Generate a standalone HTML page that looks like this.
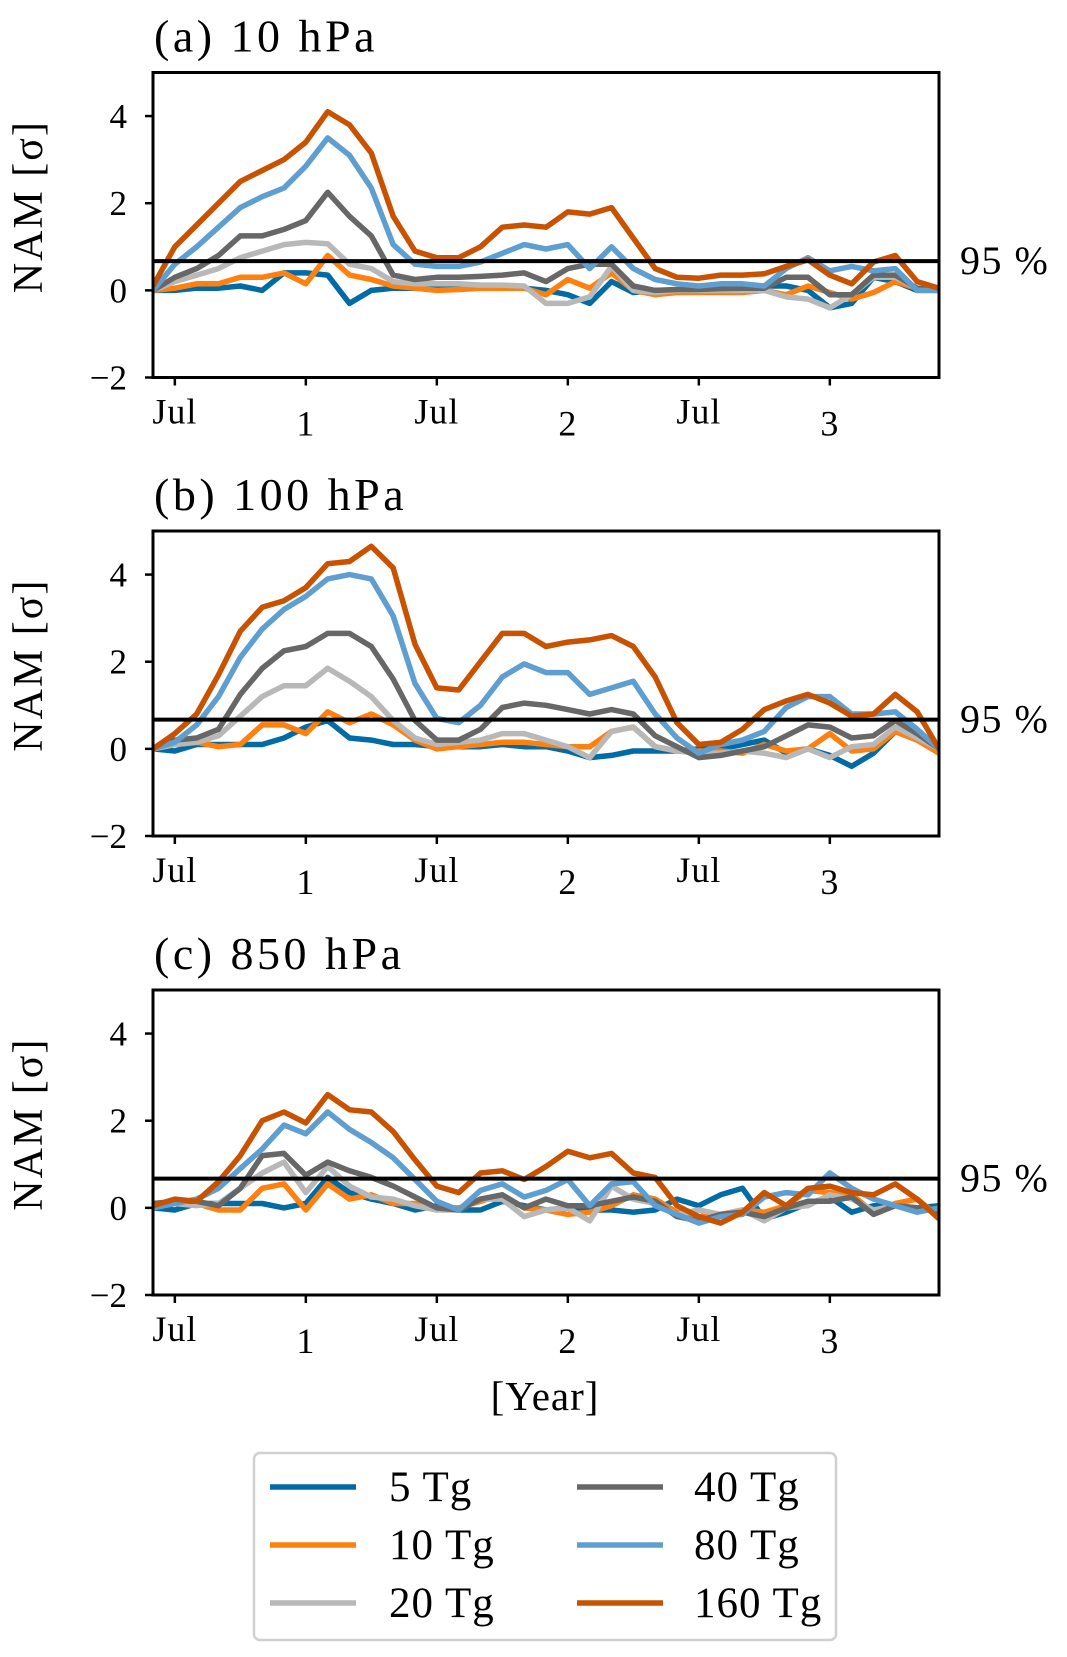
<!DOCTYPE html>
<html><head><meta charset="utf-8"><style>
html,body{margin:0;padding:0;background:#fff;}
svg{display:block;font-family:"Liberation Serif","DejaVu Serif",serif;}
</style></head><body>
<svg id="fig" width="1067" height="1657" viewBox="0 0 1067 1657" xmlns="http://www.w3.org/2000/svg"></svg>
<script>
const seriesNames = ["5 Tg","10 Tg","20 Tg","40 Tg","80 Tg","160 Tg"];
const seriesColors = ["#006BA4","#FF800E","#B8B8B8","#676767","#5F9ED1","#C85200"];
const yTicks = [-2,0,2,4];
const xTickIdx = [1,7,13,19,25,31];
const xTickLabels = ["Jul","1","Jul","2","Jul","3"];
const threshold = 0.67;
const panelTitles = ["(a) 10 hPa","(b) 100 hPa","(c) 850 hPa"];

const a5   = [0,0,0.05,0.05,0.1,0,0.4,0.4,0.35,-0.3,0,0.05,0.05,0.05,0.05,0.05,0.05,0.05,0,-0.1,-0.3,0.2,-0.05,0,0,0,0,0,0.1,0.1,0,-0.4,-0.3,0.3,0.2,0,0];
const a10  = [0,0.05,0.15,0.15,0.3,0.3,0.4,0.15,0.8,0.35,0.25,0.1,0.05,0,0.02,0.05,0.05,0.05,-0.1,0.25,0.05,0.4,0,-0.1,-0.05,-0.05,-0.05,-0.05,0,-0.1,0.1,-0.05,-0.2,-0.05,0.2,0.05,0];
const a20  = [0,0.2,0.35,0.5,0.75,0.9,1.05,1.1,1.07,0.6,0.5,0.2,0.15,0.15,0.15,0.12,0.12,0.1,-0.3,-0.3,-0.15,0.55,0,-0.05,0,0,0,0,0,-0.15,-0.2,-0.4,-0.1,0.3,0.3,0.05,0];
const a40  = [0,0.3,0.5,0.8,1.25,1.25,1.4,1.6,2.25,1.7,1.25,0.35,0.25,0.3,0.3,0.32,0.35,0.4,0.2,0.5,0.6,0.6,0.1,0,0.02,0.02,0.04,0.05,0.05,0.3,0.3,-0.1,-0.1,0.35,0.35,0.05,0];
const a80  = [0,0.6,1.0,1.45,1.9,2.15,2.35,2.85,3.5,3.1,2.35,1.05,0.6,0.55,0.55,0.65,0.85,1.05,0.95,1.05,0.5,1.0,0.5,0.25,0.15,0.1,0.15,0.15,0.1,0.5,0.75,0.45,0.55,0.45,0.5,0,0];
const a160 = [0.1,1.0,1.5,2.0,2.5,2.75,3.0,3.4,4.1,3.8,3.15,1.7,0.9,0.75,0.75,1.0,1.45,1.5,1.45,1.8,1.75,1.9,1.2,0.5,0.3,0.28,0.35,0.35,0.38,0.55,0.7,0.35,0.15,0.65,0.8,0.2,0.05];

const b5   = [0,-0.05,0.1,0.1,0.1,0.1,0.25,0.5,0.65,0.25,0.2,0.1,0.1,0.05,0.05,0.05,0.1,0.05,0.05,-0.05,-0.2,-0.15,-0.05,-0.05,-0.05,0,0,0.1,0.2,-0.1,0,-0.15,-0.4,-0.1,0.4,0.2,0];
const b10  = [0,0.1,0.15,0.05,0.1,0.55,0.55,0.35,0.85,0.6,0.8,0.55,0.2,0,0.05,0.1,0.15,0.15,0.1,0.05,0.05,0.4,0.5,0.05,-0.05,-0.05,-0.05,-0.1,0.1,-0.05,0,0.35,-0.05,0,0.4,0.2,-0.1];
const b20  = [0,0.1,0.15,0.3,0.75,1.2,1.45,1.45,1.85,1.55,1.2,0.65,0.25,0.1,0.15,0.2,0.35,0.35,0.2,0.05,-0.2,0.4,0.5,0.05,-0.05,-0.1,-0.1,-0.05,-0.1,-0.2,0,-0.2,0.05,0.1,0.5,0.25,0];
const b40  = [0,0.2,0.25,0.45,1.25,1.85,2.25,2.35,2.65,2.65,2.35,1.6,0.65,0.2,0.2,0.45,0.95,1.05,1.0,0.9,0.8,0.9,0.8,0.3,0.05,-0.2,-0.15,-0.05,0.05,0.3,0.55,0.5,0.25,0.3,0.65,0.35,0];
const b80  = [0,0.15,0.55,1.2,2.1,2.75,3.2,3.5,3.9,4.0,3.9,3.05,1.5,0.7,0.6,1.0,1.65,1.95,1.75,1.75,1.25,1.4,1.55,0.8,0.25,-0.1,0.1,0.2,0.4,0.95,1.2,1.2,0.8,0.8,0.85,0.45,0];
const b160 = [0,0.35,0.8,1.7,2.7,3.25,3.4,3.7,4.25,4.3,4.65,4.15,2.4,1.4,1.35,2.0,2.65,2.65,2.35,2.45,2.5,2.6,2.35,1.65,0.6,0.1,0.15,0.45,0.9,1.1,1.25,1.05,0.75,0.8,1.25,0.85,0];

const c5   = [0,-0.05,0.1,0.1,0.1,0.1,0,0.1,0.7,0.35,0.2,0.1,-0.05,0.05,-0.05,-0.05,0.15,0.05,-0.05,0,-0.05,-0.05,-0.1,-0.05,0.2,0.05,0.3,0.45,-0.25,-0.1,0.1,0.25,-0.1,0.05,0.05,0,0.05];
const c10  = [0,0.15,0.1,-0.05,-0.05,0.45,0.55,-0.05,0.55,0.2,0.3,0.1,0.1,0,0,0.15,0.3,0,-0.05,-0.15,-0.1,0.05,0.3,0.2,-0.1,-0.2,-0.15,-0.05,-0.1,0.05,0.4,0.35,0.3,-0.1,0.1,0.2,-0.2];
const c20  = [0.1,0.1,0.05,0.1,0.45,0.8,1.05,0.35,0.95,0.5,0.25,0.2,0.05,-0.05,-0.05,0.2,0.2,-0.2,-0.05,0,-0.3,0.5,0.2,0.1,-0.15,-0.05,-0.15,-0.05,-0.3,0,0.05,0.3,0.2,-0.05,0.05,0,-0.1];
const c40  = [0.1,0.15,0.15,0.05,0.45,1.2,1.25,0.75,1.05,0.85,0.7,0.5,0.25,0,-0.05,0.2,0.3,0,0.2,0.05,0.05,0.15,0.25,0.15,-0.2,-0.3,-0.15,-0.1,-0.2,0,0.15,0.15,0.25,-0.15,0.05,0,-0.1];
const c80  = [0,0.1,0.2,0.45,0.9,1.35,1.9,1.7,2.2,1.8,1.5,1.15,0.65,0.15,-0.05,0.4,0.55,0.25,0.4,0.65,0.05,0.55,0.6,0.05,-0.15,-0.35,-0.2,-0.15,0.25,0.35,0.3,0.8,0.45,0.2,0.05,-0.1,0];
const c160 = [0.05,0.2,0.15,0.6,1.2,2.0,2.2,1.95,2.6,2.25,2.2,1.75,1.1,0.5,0.35,0.8,0.85,0.65,0.95,1.3,1.15,1.25,0.8,0.7,0.05,-0.2,-0.35,-0.1,0.35,0.05,0.45,0.5,0.35,0.3,0.55,0.2,-0.25];

const panels = [[a5,a10,a20,a40,a80,a160],[b5,b10,b20,b40,b80,b160],[c5,c10,c20,c40,c80,c160]];
const NS="http://www.w3.org/2000/svg";
const svg=document.getElementById('fig');
function mk(tag,attrs,parent,text){const e=document.createElementNS(NS,tag);for(const k in attrs)e.setAttribute(k,attrs[k]);if(text!==undefined)e.textContent=text;(parent||svg).appendChild(e);return e;}
const L=153,R=939,H=305,tops=[72.5,531,990];
const pIds=["a","b","c"];
panels.forEach((data,p)=>{
  const T=tops[p],B=T+H;
  const g=mk('g',{});
  
  
  const xs=i=>L+i*(R-L)/36;
  const ys=v=>T+(5-v)*H/7;
  const t=mk('text',{x:154,y:T-21,'font-size':46,'letter-spacing':3.5},g,panelTitles[p]);
  
  
  const cp=mk('clipPath',{id:'cp'+p},g);mk('rect',{x:L,y:T,width:R-L,height:H},cp);
  const lg=mk('g',{'clip-path':'url(#cp'+p+')'},g);
  data.forEach((arr,s)=>{
    const pts=arr.map((v,i)=>xs(i).toFixed(1)+','+ys(v).toFixed(1)).join(' ');
    const pl=mk('polyline',{points:pts,fill:'none',stroke:seriesColors[s],'stroke-width':5.5,'stroke-linejoin':'round'},lg);
    
    
  });
  const th=mk('line',{x1:L,x2:R,y1:ys(threshold),y2:ys(threshold),stroke:'#000','stroke-width':4},g);
  
  
  const tl=mk('text',{x:960,y:ys(threshold)+13,'font-size':40,'letter-spacing':1.5},g,'95 %');
  
  
  const fr=mk('rect',{x:L,y:T,width:R-L,height:H,fill:'none',stroke:'#000','stroke-width':3},g);
  
  
  yTicks.forEach(v=>{
    mk('line',{x1:L-8,x2:L,y1:ys(v),y2:ys(v),stroke:'#000','stroke-width':2.5},g);
    const lab=mk('text',{x:L-26,y:ys(v)+12,'font-size':35,'text-anchor':'end'},g,v<0?'\u2212'+(-v):String(v));
    
    
  });
  xTickIdx.forEach((ix,k)=>{
    mk('line',{x1:xs(ix),x2:xs(ix),y1:B,y2:B+8,stroke:'#000','stroke-width':2.5},g);
    const isM=xTickLabels[k]==='Jul';
    const lab=mk('text',{x:xs(ix),y:B+(isM?46:58),'font-size':36,'letter-spacing':1,'text-anchor':'middle'},g,xTickLabels[k]);
    
    
  });
  const yl=mk('text',{x:0,y:0,'font-size':42,'letter-spacing':2,'text-anchor':'middle',transform:'translate(42,'+(T+H*0.44)+') rotate(-90)'},g,'NAM [\u03C3]');
  
  
});
const xt=mk('text',{x:545,y:1410,'font-size':41,'letter-spacing':1,'text-anchor':'middle'},svg,'[Year]');


const leg=mk('g',{});


mk('rect',{x:254,y:1453,width:582,height:187,rx:6,fill:'#fff',stroke:'#d0d0d0','stroke-width':2.5},leg);
seriesNames.forEach((n,s)=>{
  const col=Math.floor(s/3),row=s%3;
  const y=1487+row*58,lx=col?577:270,tx=col?694:389;
  const e=mk('g',{},leg);
  
  
  mk('line',{x1:lx,x2:lx+86,y1:y,y2:y,stroke:seriesColors[s],'stroke-width':5.5},e);
  mk('text',{x:tx,y:y+14,'font-size':43,'letter-spacing':1},e,n);
});
</script>
</body></html>
